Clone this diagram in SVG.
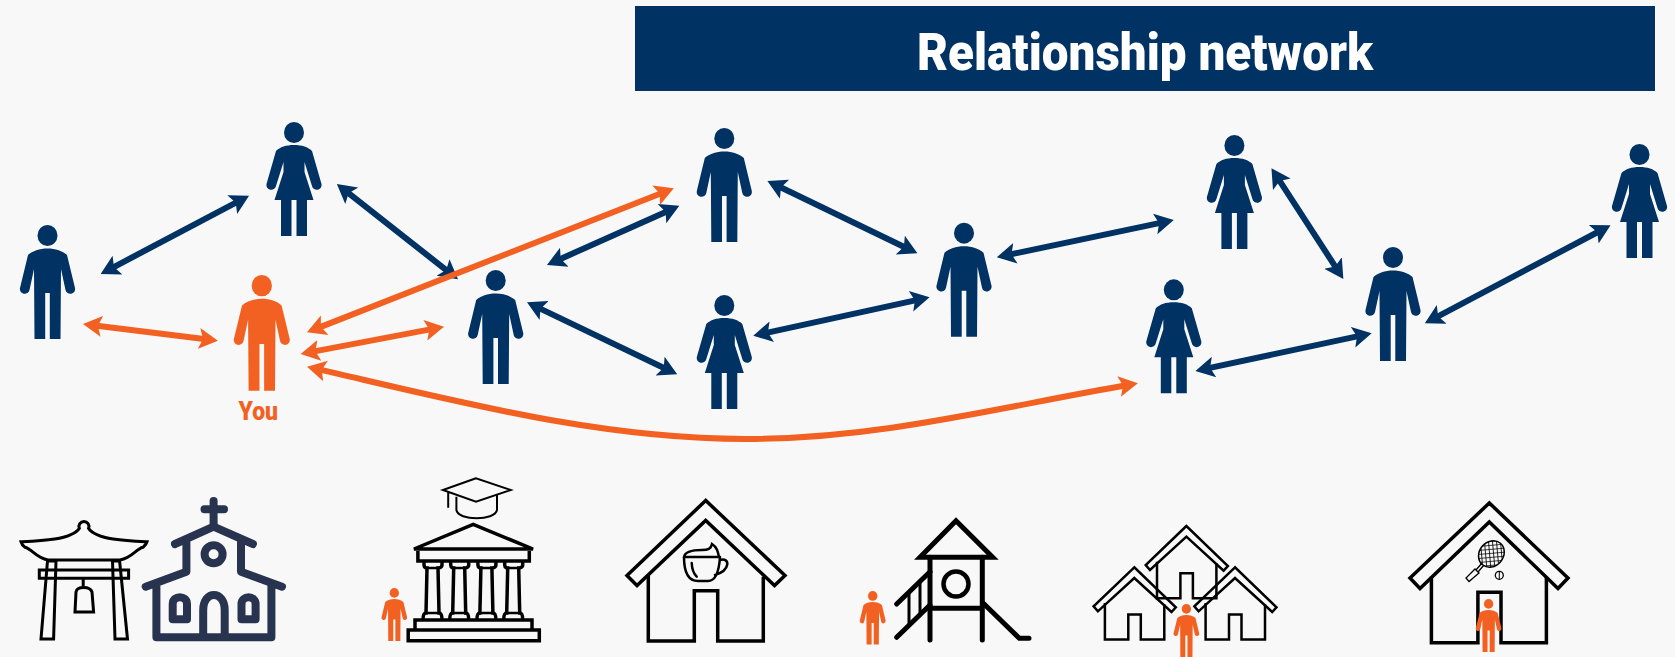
<svg xmlns="http://www.w3.org/2000/svg" width="1675" height="657" viewBox="0 0 1675 657">
<style>
.t{font-family:"Roboto","Liberation Sans",sans-serif;font-weight:900}
.n{fill:#003263}.o{fill:#f26122}
.an{fill:none;stroke:#003263;stroke-width:6;marker-start:url(#hn);marker-end:url(#hn)}
.ao{fill:none;stroke:#f26122;stroke-width:6;marker-start:url(#ho);marker-end:url(#ho)}
.k{fill:none;stroke:#000;stroke-linejoin:miter}
.ch{fill:none;stroke:#28344f;stroke-width:8;stroke-linecap:round;stroke-linejoin:round}
</style>
<defs>
<marker id="hn" markerUnits="userSpaceOnUse" markerWidth="26" markerHeight="26" viewBox="-1 -13 26 26" refX="8" refY="0" orient="auto-start-reverse"><path d="M-1,-10.5L18,0L-1,10.5L3,0Z" fill="#003263"/></marker>
<marker id="ho" markerUnits="userSpaceOnUse" markerWidth="26" markerHeight="26" viewBox="-1 -13 26 26" refX="8" refY="0" orient="auto-start-reverse"><path d="M-1,-10.5L18,0L-1,10.5L3,0Z" fill="#f26122"/></marker>
<g id="man"><ellipse cx="0" cy="10.5" rx="10" ry="10.5"/><path d="M0,23.5C8,23.5 15,26 19.5,30L27.5,63A4.8,4.8 0 0 1 18,65L13.5,44L13,114L2.3,114L2.3,68L-2.3,68L-2.3,114L-13,114L-13.5,44L-18,65A4.8,4.8 0 0 1 -27.5,63L-19.5,30C-15,26 -8,23.5 0,23.5Z"/></g>
<g id="woman"><ellipse cx="0" cy="10.5" rx="10" ry="10.5"/><path d="M0,23C8,23 14,25 18,29L27.5,62A4.8,4.8 0 0 1 18,64L10.5,40L10.5,50L19.5,78L13,78L13,114L2.5,114L2.5,78L-2.5,78L-2.5,114L-13,114L-13,78L-19.5,78L-10.5,50L-10.5,40L-18,64A4.8,4.8 0 0 1 -27.5,62L-18,29C-14,25 -8,23 0,23Z"/></g>
<g id="nhouse"><path d="M1186.4,526L1145.7,565L1150,570L1186.4,536.7L1223.6,570.7L1227.9,566Z"/><path d="M1157,561.7V598.3H1180.4V573.3H1192.9V598.3H1216.4V563.3"/></g>
<pattern id="net" width="4" height="4" patternUnits="userSpaceOnUse" patternTransform="rotate(45)"><path d="M0,0H4M0,0V4" stroke="#000" stroke-width="1.7" fill="none"/></pattern>
</defs>
<rect width="1675" height="657" fill="#f8f8f8"/>
<g id="title"><rect x="635" y="6" width="1020" height="85" fill="#003263"/><text class="t" x="917" y="70" font-size="52" fill="#fff" textLength="456" lengthAdjust="spacingAndGlyphs">Relationship network</text></g>
<g id="connectors">
<path class="an" d="M109.5,269.3L240.2,200.4"/>
<path class="an" d="M344.7,190.2L450.1,273.1"/>
<path class="an" d="M556.1,260.9L670.2,209.9"/>
<path class="an" d="M536,306.6L668.2,370"/>
<path class="an" d="M776.4,185.3L908.4,249"/>
<path class="an" d="M1006.6,255.2L1164,222.1"/>
<path class="an" d="M763,333.6L919.8,299.4"/>
<path class="an" d="M1276.9,176.7L1337.9,270.6"/>
<path class="an" d="M1433.7,318.6L1601.7,230"/>
<path class="an" d="M1205.2,368.9L1361.9,335.4"/>
<path class="ao" d="M92.9,325.2L208,339.5"/>
<path class="ao" d="M316.3,328.6L664.5,192"/>
<path class="ao" d="M310.5,352.1L434.2,328.6"/>
<path class="ao" d="M316.8,368.9C460,402 600,439 745,439C880,439 1000,407 1128,385"/>
</g>
<use id="person-1" href="#man" class="n" transform="translate(47.5,225)"/>
<use id="person-2" href="#woman" class="n" transform="translate(294,122)"/>
<g id="you"><use href="#man" class="o" transform="translate(261.8,275) scale(1.015)"/><text class="t o" x="238.5" y="420" font-size="26" textLength="39.6" lengthAdjust="spacingAndGlyphs">You</text></g>
<use id="person-3" href="#man" class="n" transform="translate(495.7,270)"/>
<use id="person-4" href="#man" class="n" transform="translate(724.3,128)"/>
<use id="person-5" href="#woman" class="n" transform="translate(724.3,295)"/>
<use id="person-6" href="#man" class="n" transform="translate(964,222.7)"/>
<use id="person-7" href="#woman" class="n" transform="translate(1234.4,135)"/>
<use id="person-8" href="#woman" class="n" transform="translate(1173.8,279.3)"/>
<use id="person-9" href="#man" class="n" transform="translate(1393,247)"/>
<use id="person-10" href="#woman" class="n" transform="translate(1639.5,144)"/>
<g id="temple" class="k" stroke-width="3">
<path d="M21,541.7C39.3,541 71.4,540 79.3,528.3A5,5 0 1 1 88.6,528.3C96.4,540 128.6,541 147,541.7C146,545 144,546 142.9,547.3C136,549 132,558 120,560H48C36,558 32,549 25,547.3C23,546 22,545 21,541.7Z"/>
<path d="M47.5,561H56L53.6,639H41ZM112.5,561H119.6L127.5,639H115ZM39.3,570H128.6V578.3H39.3Z"/>
<path d="M83.2,578V586M75,612H93.6L92,592C90,586 77,586 76,592Z"/>
</g>
<g id="church" class="ch">
<path d="M213.6,501V525M204.5,509.3H224"/>
<path d="M175,544L213.6,526.7L252.9,544M186.4,540V571.7L145.7,586.7M241,540V571.7L282,586.7M156.4,583V637.3H271.4V583"/>
<circle cx="213.6" cy="554.3" r="9"/>
<path d="M172.7,619.3V604C172.7,595 187,595 187,604V619.3ZM241.5,619.3V604C241.5,595 255.6,595 255.6,604V619.3ZM203.2,637V610C203.2,590 224.7,590 224.7,610V637"/>
</g>
<g id="university">
<use href="#man" class="o" transform="translate(394.3,588) scale(.465)"/>
<g class="k" stroke-width="2"><path d="M476,478.3L442.9,490L476,501.7L510.7,490ZM456.4,496.7V510C458,521 495,521 497,510V495M448.2,492.3V507.7"/></g>
<g class="k" stroke-width="3.5">
<path d="M414,549L473.2,524.5L533,549Z"/>
<path d="M417.9,551V561H529.3V551M415,630V620H532V630M408.2,630H539.3V640.7H408.2Z"/>
<path id="col" d="M424,562V565C424,568 427,568 427,568L426,613C423,613 423,620 423,620M442,620C442,620 442,613 439,613L438,568C438,568 442,568 442,565V562"/>
<use href="#col" x="26.7"/><use href="#col" x="53.9"/><use href="#col" x="80.7"/>
<path d="M426,613H439M452.7,613H465.7M479.9,613H492.9M506.7,613H519.7M427,568H438M453.7,568H464.7M480.9,568H491.9M507.7,568H518.7" stroke-width="2.5"/>
</g>
</g>
<g id="cafe" class="k" stroke-width="3.5">
<path d="M705.7,500.5L627,575.5L637,585.5L705.7,520.5L774.5,585.5L785,575.5Z"/>
<path d="M648.3,575V641H694.3V590.7H717.7V641H763.3V576.7"/>
<g stroke-width="2.5" stroke-linecap="round"><path d="M684,557C684,572 688,581 698,581H708C715,581 719,572 720,557M684,557C685,551 695,550 702,550C708,550 711,549 712,544C717,547 718,552 719,557ZM720,560C730,557 731,570 715,575M691.7,563C692,569 694,574 696.7,576.7"/></g>
</g>
<g id="playground">
<use href="#man" class="o" transform="translate(872.7,591) scale(.47)"/>
<g class="k" stroke-width="5" stroke-linecap="round" stroke-linejoin="round">
<path d="M920,557.3L956,520.7L992.7,557.3Z"/>
<path d="M930,557.3V640M982.3,557.3V640M930,608.3H982.3"/>
<circle cx="956" cy="584" r="12.5" stroke-width="4.5"/>
<path d="M896.7,604L930,571.7M896.7,637.3L930,605M983.3,603.3L1019.3,638.3H1029"/>
<path d="M909,593V625M920,582V614" stroke-width="3" stroke-linecap="butt"/>
</g>
</g>
<g id="neighbourhood">
<g class="k" stroke-width="2.5"><use href="#nhouse"/><use href="#nhouse" transform="translate(-52.1,41.3)"/><use href="#nhouse" transform="translate(48.6,41.3)"/></g>
<use href="#man" class="o" transform="translate(1186.4,604) scale(.465)"/>
</g>
<g id="tennis">
<g class="k" stroke-width="3.5">
<path d="M1489.3,503L1410,578L1420,588.5L1489.3,522L1558,588.5L1568,578Z"/>
<path d="M1431.4,576.7V642.7H1477.9V592.3H1501V642.7H1546.4V576.7"/>
</g>
<ellipse cx="1491.4" cy="554" rx="14" ry="12" transform="rotate(-50 1491.4 554)" fill="url(#net)" stroke="#000" stroke-width="1.5"/>
<path d="M1482,563L1476,570M1484,565L1478,572M1475,569L1479,573L1469,581.5L1466,578Z" class="k" stroke-width="1.3"/>
<circle cx="1499.3" cy="575.3" r="4" class="k" stroke-width="1.3"/>
<path d="M1499.3,571.3V579.3" class="k" stroke-width="1"/>
<use href="#man" class="o" transform="translate(1488.6,599) scale(.465)"/>
</g>
</svg>
